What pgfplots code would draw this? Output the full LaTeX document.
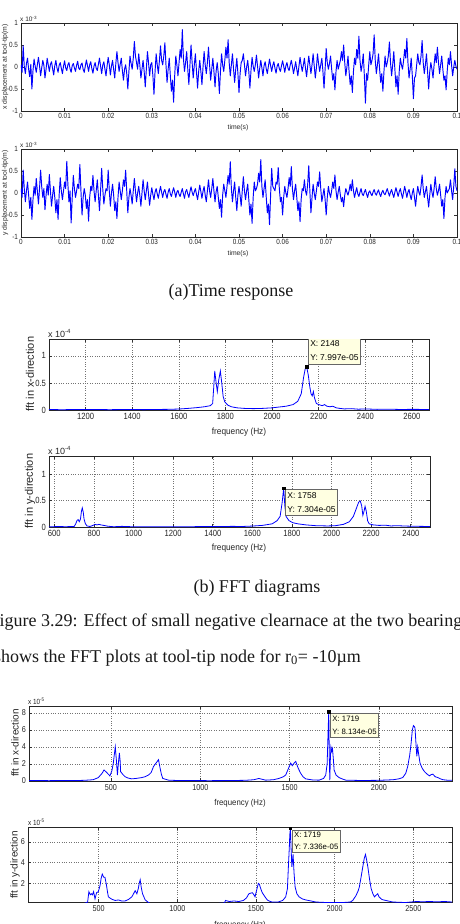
\documentclass[border=0pt]{standalone}
\usepackage{pgfplots}
\pgfplotsset{compat=1.18}
\usepackage{fontspec}
\setmainfont{Liberation Serif}
\newfontfamily\arial{Liberation Sans}
\definecolor{tipfill}{RGB}{255,255,225}

\pgfplotsset{
  matlab/.style={
    scale only axis,
    axis line style={line width=0.7pt, black!85},
    tick align=inside,
    major tick length=3pt,
    tick style={line width=0.6pt, black!80},
    scaled ticks=false,
    ticklabel style={text=black!85},
  },
  timeaxis/.style={matlab, width=436pt, height=88pt,
    xmin=0, xmax=100, ymin=-1, ymax=1,
    xtick={0,10,20,30,40,50,60,70,80,90,100},
    xticklabels={0,0.01,0.02,0.03,0.04,0.05,0.06,0.07,0.08,0.09,0.1},
    ytick={-1,-0.5,0,0.5,1}, yticklabels={-1,-0.5,0,0.5,1},
    ticklabel style={font=\arial\fontsize{7.5}{7.5}\selectfont, xscale=0.85},
    xticklabel style={yshift=1pt}},
  fftgrid/.style={grid=major, major grid style={dotted, line width=0.5pt, black!55}},
  sig/.style={blue, line width=0.8pt, no marks},
  tsig/.style={blue, line width=0.95pt, no marks, line join=round},
  tipmark/.style={only marks, mark=square*, mark size=1.2pt, black},
}
\tikzset{tip/.style={draw=black!60, fill=tipfill, line width=0.4pt, align=left, inner xsep=2pt, inner ysep=3pt}}

\begin{document}
\begin{tikzpicture}
\useasboundingbox (0,0) rectangle (459pt,-924pt);
\clip (0,0) rectangle (459pt,-924pt);

% ---------- time response, x direction (time in ms) ----------
\begin{axis}[timeaxis, at={(21pt,-23pt)}, anchor=north west]
\addplot[tsig] coordinates {
(0,0.05) (0.25,-0.12) (0.5,0.48) (0.75,0.02) (1,-0.15) (1.25,0.08) (1.5,0.2) (1.75,-0.05) (2,-0.22) (2.25,0.06)
(2.5,-0.5) (2.75,-0.08) (3,0.18) (3.25,0.02) (3.5,-0.12) (3.75,0.05) (4,0.22) (4.25,0.03) (4.5,-0.2) (4.75,-0.02)
(5,0.15) (5.25,0.04) (5.5,-0.25) (5.75,-0.05) (6,0.2) (6.25,0.05) (6.5,-0.1) (6.75,0.06) (7,0.12) (7.25,-0.04)
(7.5,-0.18) (7.75,0.03) (8,0.15) (8.25,-0.02) (8.5,-0.12) (8.75,0.04) (9,0.1) (9.25,-0.03) (9.5,-0.15) (9.75,0.02)
(10,0.14) (10.25,-0.02) (10.5,-0.08) (10.75,0.05) (11,0.1) (11.25,-0.04) (11.5,-0.12) (11.75,0.03) (12,0.08) (12.25,-0.02)
(12.5,-0.1) (12.75,0.04) (13,0.13) (13.25,-0.03) (13.5,-0.06) (13.75,0.05) (14,0.09) (14.25,-0.05) (14.5,-0.12) (14.75,0.02)
(15,0.16) (15.25,0.03) (15.5,-0.1) (15.75,0.05) (16,0.12) (16.25,-0.04) (16.5,-0.14) (16.75,0.02) (17,0.1) (17.25,-0.03)
(17.5,-0.08) (17.75,0.06) (18,0.2) (18.25,0.02) (18.5,-0.15) (18.75,0.04) (19,0.12) (19.25,-0.05) (19.5,-0.2) (19.75,0.03)
(20,0.22) (20.25,0.05) (20.5,-0.18) (20.75,0.02) (21,0.15) (21.25,-0.06) (21.5,-0.25) (21.75,0.08) (22,0.35) (22.25,0.1)
(22.5,-0.1) (22.75,0.06) (23,0.2) (23.25,-0.08) (23.5,-0.3) (23.75,-0.05) (24,0.05) (24.25,-0.15) (24.5,-0.5) (24.75,-0.1)
(25,0.25) (25.25,0.08) (25.5,-0.05) (25.75,0.2) (26,0.58) (26.25,0.25) (26.5,0.1) (26.75,-0.05) (27,0.3) (27.25,0.05)
(27.5,-0.25) (27.75,-0.05) (28,0.15) (28.25,-0.1) (28.5,-0.45) (28.75,-0.05) (29,0.35) (29.25,0.1) (29.5,-0.2) (29.75,0.05)
(30,0.1) (30.25,-0.2) (30.5,-0.62) (30.75,-0.1) (31,0.3) (31.25,0.05) (31.5,-0.15) (31.75,0.15) (32,0.48) (32.25,0.15)
(32.5,0.05) (32.75,0.25) (33,0.55) (33.25,0.05) (33.5,-0.35) (33.75,-0.05) (34,0.2) (34.25,-0.2) (34.5,-0.55) (34.75,-0.3)
(35,-0.8) (35.25,-0.2) (35.5,0.25) (35.75,0.05) (36,-0.2) (36.25,0.1) (36.5,0.4) (36.75,0.2) (37,0.85) (37.25,0.2)
(37.5,-0.1) (37.75,0.1) (38,0.35) (38.25,-0.05) (38.5,-0.4) (38.75,0.05) (39,0.5) (39.25,0.1) (39.5,-0.25) (39.75,0.05)
(40,0.3) (40.25,-0.1) (40.5,-0.48) (40.75,-0.1) (41,0.15) (41.25,-0.1) (41.5,-0.4) (41.75,0) (42,0.35) (42.25,0.05)
(42.5,-0.15) (42.75,0.1) (43,0.45) (43.25,0.05) (43.5,-0.3) (43.75,-0.05) (44,0.2) (44.25,-0.1) (44.5,-0.45) (44.75,-0.1)
(45,0.1) (45.25,-0.15) (45.5,-0.6) (45.75,-0.1) (46,0.3) (46.25,0.05) (46.5,-0.1) (46.75,0.15) (47,0.45) (47.25,0.2)
(47.5,0.62) (47.75,0.1) (48,-0.2) (48.25,0.05) (48.5,0.3) (48.75,-0.05) (49,-0.35) (49.25,-0.05) (49.5,0.2) (49.75,-0.15)
(50,-0.58) (50.25,-0.15) (50.5,0.1) (50.75,0.15) (51,0.3) (51.25,0.05) (51.5,-0.2) (51.75,0) (52,0.15) (52.25,-0.1)
(52.5,-0.48) (52.75,-0.08) (53,0.22) (53.25,0.02) (53.5,-0.1) (53.75,0.05) (54,0.27) (54.25,0.02) (54.5,-0.25) (54.75,-0.03)
(55,0.15) (55.25,-0.02) (55.5,-0.2) (55.75,0.03) (56,0.12) (56.25,-0.04) (56.5,-0.15) (56.75,0.02) (57,0.18) (57.25,0.03)
(57.5,-0.1) (57.75,0.04) (58,0.12) (58.25,-0.03) (58.5,-0.14) (58.75,0.02) (59,0.08) (59.25,-0.04) (59.5,-0.1) (59.75,0.03)
(60,0.14) (60.25,0.02) (60.5,-0.12) (60.75,0.03) (61,0.1) (61.25,-0.03) (61.5,-0.08) (61.75,0.05) (62,0.15) (62.25,0.02)
(62.5,-0.15) (62.75,-0.02) (63,0.12) (63.25,-0.05) (63.5,-0.2) (63.75,0.02) (64,0.22) (64.25,0.05) (64.5,-0.1) (64.75,0.04)
(65,0.2) (65.25,-0.03) (65.5,-0.22) (65.75,0.02) (66,0.25) (66.25,0.05) (66.5,-0.15) (66.75,0.05) (67,0.3) (67.25,0.03)
(67.5,-0.25) (67.75,-0.02) (68,0.3) (68.25,0.08) (68.5,-0.1) (68.75,0.05) (69,0.2) (69.25,-0.1) (69.5,-0.48) (69.75,-0.05)
(70,0.42) (70.25,0.1) (70.5,-0.05) (70.75,0.08) (71,0.25) (71.25,-0.05) (71.5,-0.3) (71.75,-0.15) (72,-0.52) (72.25,-0.1)
(72.5,0.15) (72.75,-0.05) (73,0.05) (73.25,0.15) (73.5,0.35) (73.75,0.15) (74,0.5) (74.25,0.1) (74.5,-0.2) (74.75,0)
(75,0.25) (75.25,-0.1) (75.5,-0.4) (75.75,-0.2) (76,-0.58) (76.25,-0.1) (76.5,0.2) (76.75,0.05) (77,0.4) (77.25,0.2)
(77.5,0.7) (77.75,0.15) (78,-0.1) (78.25,0.05) (78.5,0.3) (78.75,-0.2) (79,-0.82) (79.25,-0.15) (79.5,-0.3) (79.75,0.05)
(80,0.35) (80.25,0.05) (80.5,0.15) (80.75,0.3) (81,0.73) (81.25,0.15) (81.5,-0.15) (81.75,0.05) (82,0.3) (82.25,-0.05)
(82.5,-0.35) (82.75,-0.15) (83,-0.55) (83.25,-0.1) (83.5,0.25) (83.75,0) (84,0.1) (84.25,0.25) (84.5,0.57) (84.75,0.1)
(85,-0.2) (85.25,0.05) (85.5,0.35) (85.75,-0.05) (86,-0.45) (86.25,-0.2) (86.5,-0.62) (86.75,-0.1) (87,0.2) (87.25,0.05)
(87.5,-0.05) (87.75,0.15) (88,0.4) (88.25,0.2) (88.5,0.65) (88.75,0.1) (89,-0.25) (89.25,-0.05) (89.5,0.2) (89.75,-0.2)
(90,-0.72) (90.25,-0.25) (90.5,-0.2) (90.75,0.05) (91,0.3) (91.25,0.1) (91.5,0.05) (91.75,0.25) (92,0.6) (92.25,0.1)
(92.5,-0.15) (92.75,0.05) (93,0.3) (93.25,-0.1) (93.5,-0.5) (93.75,-0.1) (94,0.1) (94.25,-0.05) (94.5,-0.25) (94.75,0.05)
(95,0.3) (95.25,0.1) (95.5,0.45) (95.75,0.1) (96,-0.15) (96.25,0.05) (96.5,0.25) (96.75,-0.05) (97,-0.3) (97.25,-0.2)
(97.5,-0.52) (97.75,-0.1) (98,0.2) (98.25,0.05) (98.5,0.35) (98.75,0.05) (99,-0.2) (99.25,0) (99.5,0.15) (99.75,0.02) (100,-0.05)};
\end{axis}

% ---------- time response, y direction (time in ms) ----------
\begin{axis}[timeaxis, at={(21pt,-149pt)}, anchor=north west]
\addplot[tsig] coordinates {
(0,0.1) (0.25,-0.1) (0.5,0.52) (0.75,0.1) (1,-0.2) (1.25,0.05) (1.5,0.25) (1.75,-0.05) (2,-0.35) (2.25,-0.1)
(2.5,-0.6) (2.75,-0.15) (3,0.15) (3.25,-0.05) (3.5,0.33) (3.75,0.05) (4,-0.25) (4.25,0.1) (4.5,0.52) (4.75,0.15)
(5,-0.1) (5.25,0.1) (5.5,-0.38) (5.75,-0.05) (6,0.2) (6.25,-0.05) (6.5,0.42) (6.75,0.05) (7,-0.3) (7.25,-0.05)
(7.5,0.15) (7.75,-0.1) (8,-0.45) (8.25,-0.15) (8.5,-0.6) (8.75,-0.05) (9,0.35) (9.25,0.05) (9.5,-0.15) (9.75,0.05)
(10,0.25) (10.25,0.1) (10.5,0.72) (10.75,0.2) (11,-0.2) (11.25,0.05) (11.5,-0.68) (11.75,-0.1) (12,0.4) (12.25,0.1)
(12.5,-0.1) (12.75,0.05) (13,0.2) (13.25,0.1) (13.5,0.65) (13.75,0.05) (14,-0.5) (14.25,-0.1) (14.5,0.1) (14.75,-0.05)
(15,-0.35) (15.25,-0.15) (15.5,-0.64) (15.75,-0.1) (16,0.15) (16.25,0.05) (16.5,0.4) (16.75,0.05) (17,-0.2) (17.25,0.05)
(17.5,0.3) (17.75,-0.05) (18,-0.4) (18.25,0.05) (18.5,0.56) (18.75,0.1) (19,-0.25) (19.25,-0.05) (19.5,0.1) (19.75,0.05)
(20,0.52) (20.25,0.05) (20.5,-0.3) (20.75,0) (21,0.2) (21.25,-0.05) (21.5,-0.4) (21.75,-0.2) (22,-0.58) (22.25,-0.1)
(22.5,0.25) (22.75,0.05) (23,-0.15) (23.25,0.05) (23.5,0.3) (23.75,0.15) (24,0.52) (24.25,0.05) (24.5,-0.45) (24.75,-0.1)
(25,0.1) (25.25,-0.05) (25.5,-0.25) (25.75,0.05) (26,0.33) (26.25,0.05) (26.5,-0.2) (26.75,0) (27,0.15) (27.25,-0.05)
(27.5,-0.3) (27.75,0) (28,0.3) (28.25,0.05) (28.5,-0.15) (28.75,0.05) (29,0.25) (29.25,-0.03) (29.5,-0.28) (29.75,-0.05)
(30,0.12) (30.25,-0.03) (30.5,-0.15) (30.75,0.02) (31,0.1) (31.25,-0.02) (31.5,-0.12) (31.75,0.03) (32,0.15) (32.25,0.02)
(32.5,-0.1) (32.75,0.03) (33,0.08) (33.25,-0.03) (33.5,-0.12) (33.75,0.02) (34,0.1) (34.25,-0.02) (34.5,-0.08) (34.75,0.03)
(35,0.12) (35.25,0.02) (35.5,-0.1) (35.75,0.02) (36,0.06) (36.25,-0.03) (36.5,-0.08) (36.75,0.02) (37,0.1) (37.25,-0.02)
(37.5,-0.12) (37.75,0.03) (38,0.08) (38.25,-0.02) (38.5,-0.1) (38.75,0.03) (39,0.14) (39.25,0.02) (39.5,-0.06) (39.75,0.03)
(40,0.1) (40.25,-0.03) (40.5,-0.15) (40.75,0.02) (41,0.18) (41.25,0.03) (41.5,-0.12) (41.75,0.04) (42,0.15) (42.25,-0.05)
(42.5,-0.2) (42.75,0.05) (43,0.3) (43.25,0.05) (43.5,-0.1) (43.75,0.1) (44,0.33) (44.25,0.05) (44.5,-0.2) (44.75,0.03)
(45,0.15) (45.25,-0.1) (45.5,-0.35) (45.75,-0.15) (46,-0.55) (46.25,-0.05) (46.5,0.2) (46.75,0.05) (47,-0.1) (47.25,0.15)
(47.5,0.4) (47.75,0.2) (48,0.71) (48.25,0.1) (48.5,-0.2) (48.75,0.05) (49,0.25) (49.25,-0.1) (49.5,-0.4) (49.75,-0.05)
(50,0.15) (50.25,-0.05) (50.5,-0.3) (50.75,0.05) (51,0.37) (51.25,0.05) (51.5,-0.15) (51.75,0.05) (52,0.2) (52.25,-0.15)
(52.5,-0.5) (52.75,-0.25) (53,-0.69) (53.25,-0.1) (53.5,0.25) (53.75,0.05) (54,0.1) (54.25,0.2) (54.5,0.45) (54.75,0.25)
(55,0.76) (55.25,0.15) (55.5,-0.1) (55.75,0.1) (56,0.3) (56.25,-0.1) (56.5,-0.45) (56.75,-0.25) (57,-0.72) (57.25,-0.05)
(57.5,0.56) (57.75,0.15) (58,0.1) (58.25,0.05) (58.5,0.25) (58.75,0.2) (59,0.58) (59.25,0.1) (59.5,-0.2) (59.75,-0.1)
(60,-0.5) (60.25,-0.1) (60.5,0.15) (60.75,0) (61,-0.1) (61.25,0.1) (61.5,0.35) (61.75,0.15) (62,0.6) (62.25,0.1)
(62.5,-0.15) (62.75,0.05) (63,0.2) (63.25,-0.1) (63.5,-0.4) (63.75,-0.2) (64,-0.65) (64.25,-0.15) (64.5,0.1) (64.75,0.05)
(65,0.3) (65.25,0.05) (65.5,-0.05) (65.75,0.2) (66,0.62) (66.25,0.05) (66.5,-0.45) (66.75,-0.1) (67,0.2) (67.25,0)
(67.5,-0.15) (67.75,0.05) (68,0.25) (68.25,0.15) (68.5,0.48) (68.75,0.1) (69,-0.2) (69.25,-0.05) (69.5,0.1) (69.75,-0.15)
(70,-0.5) (70.25,-0.1) (70.5,0.15) (70.75,0) (71,-0.1) (71.25,0.05) (71.5,0.25) (71.75,0.1) (72,0.41) (72.25,0.05)
(72.5,-0.15) (72.75,0.02) (73,0.15) (73.25,-0.05) (73.5,-0.2) (73.75,-0.1) (74,-0.31) (74.25,-0.05) (74.5,0.1) (74.75,0.02)
(75,-0.05) (75.25,0.05) (75.5,0.2) (75.75,0.05) (76,0.3) (76.25,0.05) (76.5,-0.1) (76.75,0.02) (77,0.12) (77.25,-0.02)
(77.5,-0.08) (77.75,0.02) (78,0.1) (78.25,-0.02) (78.5,-0.06) (78.75,0.02) (79,0.08) (79.25,-0.02) (79.5,-0.1) (79.75,0.01)
(80,0.05) (80.25,-0.02) (80.5,-0.06) (80.75,0.02) (81,0.08) (81.25,-0.01) (81.5,-0.05) (81.75,0.02) (82,0.07) (82.25,-0.02)
(82.5,-0.08) (82.75,0.01) (83,0.06) (83.25,-0.01) (83.5,-0.04) (83.75,0.03) (84,0.1) (84.25,0.01) (84.5,-0.07) (84.75,0.02)
(85,0.08) (85.25,-0.02) (85.5,-0.1) (85.75,0.02) (86,0.12) (86.25,0.02) (86.5,-0.08) (86.75,0.03) (87,0.1) (87.25,-0.02)
(87.5,-0.12) (87.75,0.02) (88,0.15) (88.25,0.03) (88.5,-0.1) (88.75,0.02) (89,0.08) (89.25,-0.05) (89.5,-0.15) (89.75,0)
(90,0.1) (90.25,-0.1) (90.5,-0.3) (90.75,-0.05) (91,0.15) (91.25,0.02) (91.5,-0.05) (91.75,0.15) (92,0.41) (92.25,0.1)
(92.5,-0.1) (92.75,0.03) (93,0.15) (93.25,-0.1) (93.5,-0.32) (93.75,-0.05) (94,0.2) (94.25,0.02) (94.5,-0.1) (94.75,0.1)
(95,0.37) (95.25,0.1) (95.5,-0.05) (95.75,0.05) (96,0.2) (96.25,-0.05) (96.5,-0.3) (96.75,-0.15) (97,-0.58) (97.25,-0.1)
(97.5,0.15) (97.75,0) (98,0.05) (98.25,0.1) (98.5,0.3) (98.75,0.05) (99,-0.15) (99.25,0.15) (99.5,0.55) (99.75,0.15) (100,0.05)};
\end{axis}

% ---------- FFT, x direction (first case) ----------
\begin{axis}[matlab, fftgrid, at={(49pt,-339pt)}, anchor=north west, width=380pt, height=71pt,
  xmin=1043, xmax=2673, ymin=0, ymax=1.31,
  xtick={1200,1400,1600,1800,2000,2200,2400,2600},
  xticklabels={1200,1400,1600,1800,2000,2200,2400,2600},
  ytick={0,0.5,1}, yticklabels={0,0.5,1},
  ticklabel style={font=\arial\fontsize{9}{9}\selectfont, xscale=0.85}]
\addplot[sig] coordinates {
(1043,0.01) (1100,0.005) (1150,0.01) (1200,0.008) (1250,0.01) (1300,0.006) (1350,0.008) (1400,0.01) (1450,0.007) (1500,0.01)
(1550,0.012) (1600,0.018) (1640,0.03) (1680,0.045) (1710,0.06) (1735,0.08) (1745,0.12) (1750,0.45) (1754,0.72) (1760,0.5)
(1765,0.34) (1771,0.55) (1778,0.72) (1784,0.5) (1790,0.25) (1797,0.15) (1810,0.09) (1825,0.06) (1850,0.04) (1880,0.03)
(1920,0.025) (1960,0.03) (2000,0.04) (2030,0.055) (2060,0.07) (2090,0.1) (2110,0.16) (2125,0.3) (2135,0.6) (2142,0.76)
(2148,0.7997) (2155,0.65) (2162,0.42) (2167,0.3) (2172,0.26) (2177,0.34) (2182,0.22) (2190,0.12) (2200,0.1) (2215,0.08)
(2225,0.1) (2235,0.07) (2248,0.06) (2260,0.07) (2275,0.04) (2290,0.03) (2310,0.02) (2340,0.025) (2370,0.015) (2400,0.02)
(2450,0.012) (2500,0.015) (2550,0.01) (2600,0.012) (2673,0.01)};
\addplot[tipmark] coordinates {(2148,0.7997)};
\node[tip, anchor=south west, font=\arial\fontsize{8.5}{14}\selectfont]
  at (axis cs:2148,0.7997) [xshift=1.5pt, yshift=2.5pt] {X: 2148\\Y: 7.997e-05};
\end{axis}

% ---------- FFT, y direction (first case) ----------
\begin{axis}[matlab, fftgrid, at={(49pt,-456pt)}, anchor=north west, width=381pt, height=71pt,
  xmin=573, xmax=2497, ymin=0, ymax=1.34,
  xtick={600,800,1000,1200,1400,1600,1800,2000,2200,2400},
  xticklabels={600,800,1000,1200,1400,1600,1800,2000,2200,2400},
  ytick={0,0.5,1}, yticklabels={0,0.5,1},
  ticklabel style={font=\arial\fontsize{9}{9}\selectfont, xscale=0.85}]
\addplot[sig] coordinates {
(573,0.005) (620,0.008) (660,0.006) (700,0.01) (708,0.06) (714,0.12) (720,0.14) (726,0.1) (732,0.15) (737,0.3)
(741,0.36) (746,0.28) (750,0.15) (757,0.06) (765,0.02) (780,0.01) (795,0.03) (805,0.05) (815,0.04) (825,0.05)
(835,0.04) (850,0.03) (870,0.015) (900,0.005) (940,0.012) (960,0.01) (1000,0.004) (1100,0.003) (1200,0.004) (1300,0.006)
(1350,0.01) (1400,0.008) (1450,0.01) (1500,0.012) (1550,0.01) (1600,0.018) (1650,0.03) (1700,0.06) (1725,0.12) (1740,0.2)
(1750,0.45) (1758,0.7304) (1764,0.4) (1770,0.2) (1785,0.12) (1805,0.08) (1830,0.06) (1870,0.04) (1920,0.025) (1980,0.02)
(2020,0.025) (2060,0.05) (2090,0.1) (2110,0.2) (2125,0.35) (2137,0.47) (2145,0.49) (2152,0.4) (2158,0.22) (2164,0.3)
(2169,0.39) (2175,0.3) (2182,0.12) (2190,0.06) (2210,0.04) (2240,0.03) (2270,0.035) (2300,0.02) (2330,0.025) (2360,0.02)
(2400,0.015) (2450,0.012) (2497,0.01)};
\addplot[tipmark] coordinates {(1758,0.7304)};
\node[tip, anchor=north west, font=\arial\fontsize{8.5}{14}\selectfont]
  at (axis cs:1758,0.7304) [xshift=1.5pt, yshift=-1pt] {X: 1758\\Y: 7.304e-05};
\end{axis}

% ---------- FFT, x direction (r0 = -10 um) ----------
\begin{axis}[matlab, fftgrid, at={(29pt,-706pt)}, anchor=north west, width=423pt, height=75pt,
  xmin=41, xmax=2409, ymin=0, ymax=8.8,
  xtick={500,1000,1500,2000}, xticklabels={500,1000,1500,2000},
  ytick={0,2,4,6,8}, yticklabels={0,2,4,6,8},
  ticklabel style={font=\arial\fontsize{8.5}{8.5}\selectfont, xscale=0.85}]
\addplot[sig] coordinates {
(41,0.05) (100,0.06) (150,0.04) (200,0.05) (250,0.07) (300,0.05) (350,0.08) (400,0.15) (429,0.4) (450,0.9)
(461,1.3) (476,1.0) (494,0.6) (505,1.2) (513,2.1) (518,3.0) (524,4.0) (530,2.5) (536,0.7) (541,2.0)
(547,3.3) (551,2.4) (554,1.1) (565,0.8) (579,0.5) (595,0.35) (616,0.25) (640,0.3) (672,0.4) (690,0.5)
(710,0.7) (725,1.0) (738,1.7) (752,2.1) (766,2.5) (775,1.5) (782,0.8) (790,0.3) (822,0.1) (870,0.06)
(950,0.05) (1050,0.04) (1150,0.05) (1250,0.08) (1300,0.15) (1328,0.3) (1365,0.1) (1410,0.15) (1440,0.3) (1465,0.5)
(1478,0.7) (1490,1.3) (1506,2.1) (1515,1.8) (1525,2.1) (1534,2.3) (1548,1.5) (1562,0.9) (1575,0.5) (1590,0.25)
(1630,0.12) (1665,0.1) (1690,0.3) (1702,0.7) (1710,2.0) (1715,5.5) (1719,8.134) (1722,3.0) (1725,0.1) (1728,2.5)
(1731,4.0) (1736,3.5) (1740,3.8) (1745,2.5) (1749,1.3) (1760,0.7) (1777,0.4) (1800,0.2) (1815,0.1) (1900,0.06)
(2000,0.08) (2080,0.15) (2110,0.25) (2133,0.4) (2150,0.9) (2161,1.7) (2172,3.0) (2180,4.4) (2187,6.0) (2193,6.5)
(2198,6.4) (2202,6.2) (2207,4.5) (2212,2.9) (2217,4.0) (2222,3.2) (2230,2.1) (2242,1.5) (2255,1.1) (2270,0.8)
(2283,0.6) (2292,0.75) (2302,0.8) (2315,0.5) (2330,0.4) (2345,0.25) (2358,0.15) (2380,0.1) (2409,0.08)};
\addplot[tipmark] coordinates {(1719,8.134)};
\node[tip, anchor=north west, font=\arial\fontsize{7.8}{13}\selectfont, inner ysep=2.5pt]
  at (axis cs:1719,8.134) [xshift=1.5pt, yshift=-1.5pt] {X: 1719\\Y: 8.134e-05};
\end{axis}

% ---------- FFT, y direction (r0 = -10 um) ----------
\begin{axis}[matlab, fftgrid, at={(28pt,-827pt)}, anchor=north west, width=424pt, height=75pt,
  xmin=51, xmax=2746, ymin=0.2, ymax=7.45,
  xtick={500,1000,1500,2000,2500}, xticklabels={500,1000,1500,2000,2500},
  ytick={2,4,6}, yticklabels={2,4,6},
  ticklabel style={font=\arial\fontsize{8.5}{8.5}\selectfont, xscale=0.85}]
\addplot[sig] coordinates {
(51,0) (200,0) (400,0) (430,0.2) (438,1.2) (447,0.9) (455,1.0) (461,0.9) (468,1.2) (477,0.5)
(487,1.1) (498,1.2) (509,1.8) (516,2.5) (523,2.9) (532,2.6) (540,2.6) (549,1.9) (556,1.2) (562,0.7)
(575,0.55) (587,0.45) (605,0.35) (626,0.4) (645,0.3) (668,0.3) (690,0.45) (711,0.7) (722,1.0) (732,1.3)
(743,1.0) (752,1.5) (758,2.0) (764,2.35) (771,1.6) (779,1.0) (796,0.4) (813,0.2) (830,0) (1200,0)
(1300,0.1) (1306,0.35) (1330,0.25) (1360,0.3) (1391,0.25) (1420,0.35) (1440,0.6) (1455,1.0) (1465,1.05) (1477,1.1)
(1487,0.9) (1494,0.7) (1505,1.4) (1515,2.0) (1522,1.9) (1530,1.5) (1540,1.1) (1551,0.85) (1562,0.6) (1572,0.4)
(1590,0.25) (1604,0.2) (1640,0.2) (1670,0.35) (1689,0.7) (1700,1.5) (1706,3.6) (1712,5.5) (1715,6.7) (1719,7.336)
(1723,5.5) (1728,3.6) (1732,4.2) (1736,4.8) (1742,3.0) (1749,1.65) (1760,1.0) (1774,0.7) (1795,0.5) (1817,0.4)
(1850,0.3) (1881,0.2) (1950,0.15) (2050,0.15) (2100,0.2) (2115,0.35) (2135,0.8) (2150,1.3) (2157,1.65) (2168,2.6)
(2179,3.6) (2188,4.4) (2196,4.8) (2203,4.3) (2211,3.6) (2222,2.4) (2232,1.5) (2243,1.0) (2253,0.7) (2263,0.85)
(2274,1.0) (2282,0.7) (2289,0.6) (2300,0.45) (2311,0.4) (2340,0.3) (2370,0.2) (2450,0.15) (2520,0.25) (2560,0.22)
(2600,0.25) (2650,0.22) (2700,0.25) (2746,0.2)};
\addplot[tipmark] coordinates {(1719,7.336)};
\node[tip, anchor=north west, font=\arial\fontsize{7.8}{12}\selectfont, inner ysep=2.5pt]
  at (axis cs:1719,7.336) [xshift=1.5pt, yshift=-1.5pt] {X: 1719\\Y: 7.336e-05};
\end{axis}

% ---------- axis labels and exponents ----------
\begin{scope}[every node/.style={text=black!85}]
\node[font=\arial\fontsize{6.5}{6.5}\selectfont, anchor=south west, inner sep=0pt] at (20pt,-22pt) {x 10\textsuperscript{-3}};
\node[font=\arial\fontsize{6.5}{6.5}\selectfont, anchor=south west, inner sep=0pt] at (20pt,-148pt) {x 10\textsuperscript{-3}};
\node[font=\arial\fontsize{9}{9}\selectfont, anchor=south west, inner sep=0pt] at (48pt,-338pt) {x 10\textsuperscript{-4}};
\node[font=\arial\fontsize{9}{9}\selectfont, anchor=south west, inner sep=0pt] at (48pt,-455pt) {x 10\textsuperscript{-4}};
\node[font=\arial\fontsize{7.5}{7.5}\selectfont, anchor=south west, inner sep=0pt, xscale=0.85] at (28pt,-705pt) {x 10\textsuperscript{-5}};
\node[font=\arial\fontsize{7.5}{7.5}\selectfont, anchor=south west, inner sep=0pt, xscale=0.85] at (28pt,-826pt) {x 10\textsuperscript{-5}};

\node[font=\arial\fontsize{6.8}{6.8}\selectfont, rotate=90, inner sep=0pt] at (5pt,-67pt) {x displacement at tool-tip(m)};
\node[font=\arial\fontsize{6.8}{6.8}\selectfont, rotate=90, inner sep=0pt] at (5pt,-193pt) {y displacement at tool-tip(m)};
\node[font=\arial\fontsize{11}{11}\selectfont, rotate=90, inner sep=0pt] at (30pt,-374pt) {fft in x-direction};
\node[font=\arial\fontsize{11}{11}\selectfont, rotate=90, inner sep=0pt] at (30pt,-491pt) {fft in y-direction};
\node[font=\arial\fontsize{10}{10}\selectfont, rotate=90, inner sep=0pt] at (15pt,-743pt) {fft in x-direction};
\node[font=\arial\fontsize{10}{10}\selectfont, rotate=90, inner sep=0pt] at (15pt,-865pt) {fft in y-direction};

\node[font=\arial\fontsize{6.8}{6.8}\selectfont, inner sep=0pt] at (238pt,-128pt) {time(s)};
\node[font=\arial\fontsize{6.8}{6.8}\selectfont, inner sep=0pt] at (238pt,-254pt) {time(s)};
\node[font=\arial\fontsize{9}{9}\selectfont, inner sep=0pt, xscale=0.92] at (239pt,-432pt) {frequency (Hz)};
\node[font=\arial\fontsize{9}{9}\selectfont, inner sep=0pt, xscale=0.92] at (239pt,-548pt) {frequency (Hz)};
\node[font=\arial\fontsize{8.5}{8.5}\selectfont, inner sep=0pt, xscale=0.92] at (240pt,-803pt) {frequency (Hz)};
\node[font=\arial\fontsize{8.5}{8.5}\selectfont, inner sep=0pt, xscale=0.92] at (240pt,-925pt) {frequency (Hz)};
\end{scope}

% ---------- captions and running text ----------
\begin{scope}[every node/.style={inner sep=0pt, text=black!90, font=\fontsize{18}{18}\selectfont}]
\node[anchor=base] at (231pt,-296.5pt) {(a)Time response};
\node[anchor=base] at (257pt,-592pt) {(b) FFT diagrams};
\node[anchor=base west] at (-10.5pt,-626.5pt) {Figure 3.29: Effect of small negative clearnace at the two bearings};
\node[anchor=base west] at (-6pt,-662pt) {shows the FFT plots at tool-tip node for r\textsubscript{0}= -10µm};
\end{scope}
\end{tikzpicture}
\end{document}
